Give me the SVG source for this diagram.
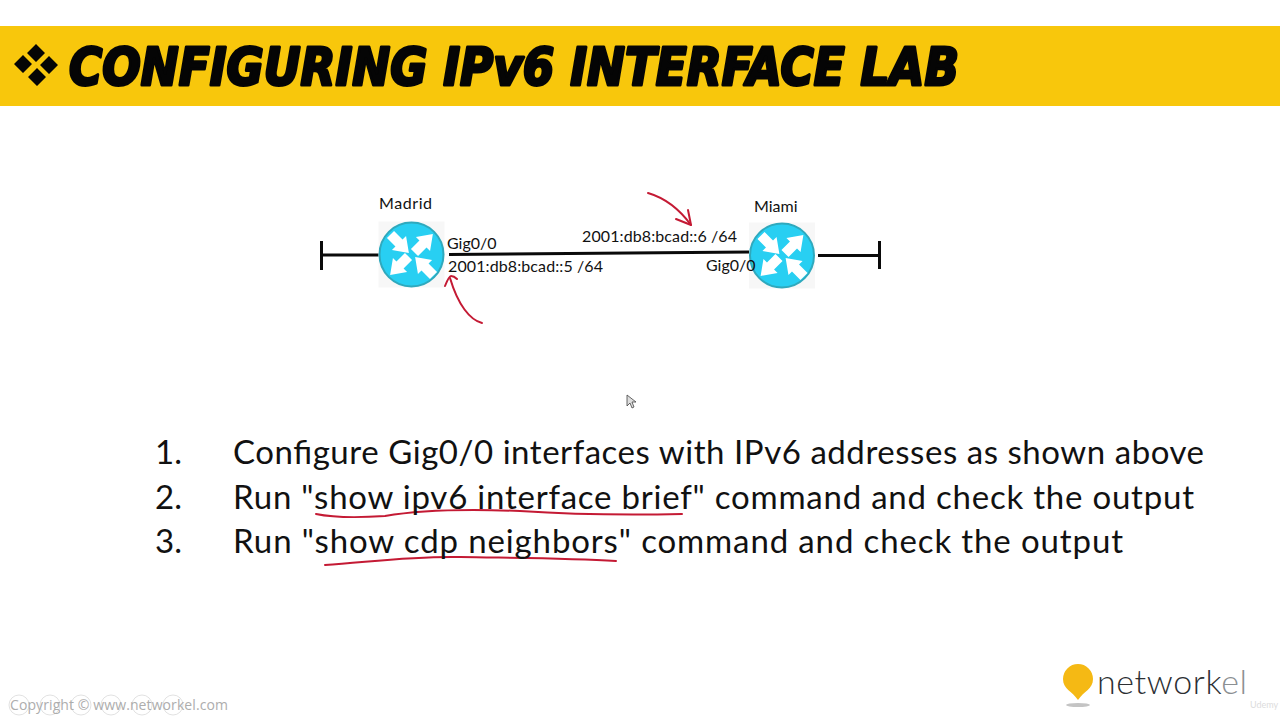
<svg xmlns="http://www.w3.org/2000/svg" width="1280" height="720" viewBox="0 0 1280 720">
<style>
text{font-family:Lato,"Open Sans",sans-serif;fill:#111}
.lab{font-size:16px}
.step{font-size:33px}
.title{font-family:"DejaVu Sans",sans-serif;font-weight:700;font-style:italic;font-size:51px;fill:#050505;stroke:#050505;stroke-width:3px;stroke-linejoin:round}
.wire{stroke:#0a0a0a;stroke-width:3;fill:none}
.ink{stroke:#c41a34;stroke-width:2;fill:none;stroke-linecap:round;stroke-linejoin:round}
.pad{fill:#f7f7f7}
.body{fill:#28cff2;stroke:#2fa9bd;stroke-width:2}
.arr{fill:#fff}
</style>
<defs>
<polygon id="arrow" class="arr" points="0,-5 12,-5 12,-10 26,0 12,10 12,5 0,5"/>
<g id="router">
<rect class="pad" x="-33" y="-33" width="66" height="66"/>
<circle class="body" r="32"/>
<use href="#arrow" transform="translate(-21,-20) rotate(45)"/>
<use href="#arrow" transform="translate(3,-2) rotate(-45)"/>
<use href="#arrow" transform="translate(-3,2) rotate(135)"/>
<use href="#arrow" transform="translate(22,21) rotate(225)"/>
</g>
</defs>
<rect width="1280" height="720" fill="#fff"/>
<g id="banner">
<rect x="0" y="26" width="1280" height="80" fill="#f8c70c"/>
<path d="M36 44l9 9-9 9-9-9zM23 55l9 9-9 9-9-9zM49 56l9 9-9 9-9-9zM37 68l9 9-9 9-9-9z" fill="#050505"/>
<text class="title" x="69" y="85" textLength="890" lengthAdjust="spacingAndGlyphs">CONFIGURING IPv6 INTERFACE LAB</text>
</g>
<g id="connectors">
<path class="wire" d="M322 255H380"/>
<path class="wire" d="M321.500 241V270"/>
<path class="wire" d="M449 254.500L750 252"/>
<path class="wire" d="M818 255.500H878"/>
<path class="wire" d="M879.500 241V269"/>
</g>
<g id="madrid">
<use href="#router" x="411.500" y="254.500"/>
<text class="lab" x="379" y="209" textLength="53">Madrid</text>
</g>
<g id="miami">
<use href="#router" x="782" y="255.500"/>
<text class="lab" x="754" y="212">Miami</text>
</g>
<g id="labels">
<text class="lab" x="447" y="249">Gig0/0</text>
<text class="lab" x="448" y="272" textLength="155">2001:db8:bcad::5 /64</text>
<text class="lab" x="582" y="242" textLength="155">2001:db8:bcad::6 /64</text>
<text class="lab" x="706" y="271">Gig0/0</text>
</g>
<g id="annotations">
<path class="ink" d="M482 323C470 320 458 305 450 278"/>
<path class="ink" d="M445 286C447 281 449 276 451 276C453 276 456 278 457 279"/>
<path class="ink" d="M648 193C665 198 680 210 691 225"/>
<path class="ink" d="M676 219L691 225L688 210"/>
<path class="ink" d="M316 514C340 519 370 517 385 516C420 510 470 509 520 511C580 515 640 515 682 514"/>
<path class="ink" d="M325 565C370 562 410 556 460 557C520 558 570 558 616 561"/>
</g>
<g id="steps">
<text class="step" x="155" y="464">1.</text>
<text class="step" x="233" y="464" textLength="971">Configure Gig0/0 interfaces with IPv6 addresses as shown above</text>
<text class="step" x="155" y="509">2.</text>
<text class="step" x="233" y="509" textLength="961">Run "show ipv6 interface brief" command and check the output</text>
<text class="step" x="155" y="553">3.</text>
<text class="step" x="233" y="553" textLength="890">Run "show cdp neighbors" command and check the output</text>
</g>
<g id="cursor">
<path d="M627 395V406L630 403L632 408L634 407L632 402L636 402Z" fill="#ddd" stroke="#444" stroke-width=".8"/>
</g>
<g id="footer">
<g fill="none" stroke="#e2e2e2"><circle cx="19" cy="705" r="10"/><circle cx="50" cy="705" r="10"/><circle cx="81" cy="705" r="10"/><circle cx="111" cy="705" r="10"/><circle cx="142" cy="705" r="10"/><circle cx="173" cy="705" r="10"/></g>
<text x="10" y="710" font-size="14" style="fill:#adadad;font-family:'Open Sans',sans-serif" textLength="218">Copyright © www.networkel.com</text>
</g>
<g id="logo">
<ellipse cx="1078" cy="705" rx="12" ry="2" fill="#c4c4c4"/>
<path d="M1078 700C1072 691 1063 689 1063 679A15 15 0 0 1 1093 679C1093 689 1084 691 1078 700Z" fill="#f5b914"/>
<text x="1097" y="694" font-size="34" font-weight="300" textLength="150" style="fill:#2c2f33">networ<tspan style="fill:#2c2f33">k</tspan><tspan style="fill:#8b8f92">el</tspan></text>
<text x="1250" y="708" font-size="9" style="fill:#dcdcdc">Udemy</text>
</g>
</svg>
